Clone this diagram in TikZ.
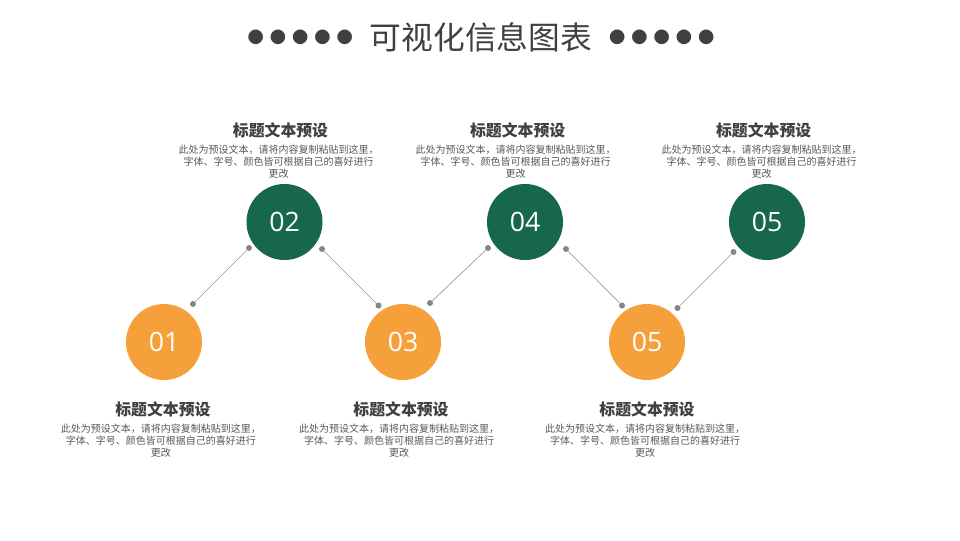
\documentclass[tikz,border=0pt]{standalone}
\usepackage{fontspec}
\setmainfont{Noto Sans CJK SC}
\newfontfamily\numfont{Open Sans}
\usepackage{tikz}
\usetikzlibrary{positioning}
\definecolor{stepgreen}{HTML}{17664E}
\definecolor{steporange}{HTML}{F5A03A}
\definecolor{textgray}{HTML}{404040}
\definecolor{bodygray}{HTML}{595959}
\definecolor{pingray}{HTML}{858585}
\definecolor{linegray}{HTML}{9A9A9A}
\newcommand{\dotrow}{●\kern4.5pt●\kern4.5pt●\kern4.5pt●\kern4.5pt●}

\begin{document}
\begin{tikzpicture}[x=0.75pt, y=-0.75pt,
  numg/.style={circle, fill=stepgreen, minimum size=57pt, inner sep=0pt, text=white, font=\numfont\fontsize{20}{24}\selectfont},
  numo/.style={circle, fill=steporange, minimum size=57pt, inner sep=0pt, text=white, font=\numfont\fontsize{20}{24}\selectfont},
  head/.style={inner sep=0pt, text=textgray, font=\bfseries\fontsize{11.9}{14}\selectfont},
  body/.style={inner sep=0pt, align=center, text=bodygray, font=\fontsize{7.5}{9}\selectfont},
  dots/.style={inner sep=0pt, text=textgray, font=\fontsize{12.2}{14}\selectfont},
  pin/.style={circle, fill=pingray, inner sep=0pt, minimum size=4.5pt},
  link/.style={draw=linegray, line width=0.5pt}]
\useasboundingbox[fill=white] (0,0) rectangle (960,540);
% title row
\node[text=textgray, font=\fontsize{23.8}{28}\selectfont] (ttl) at (481,37) {可视化信息图表};
\node[dots, left=9pt of ttl] (dotsl) {\dotrow};
\node[dots, right=9pt of ttl] (dotsr) {\dotrow};
% steps
\node[numo] (c1) at (164,342) {01};
\node[numg] (c2) at (284.5,222) {02};
\node[numo] (c3) at (403,342) {03};
\node[numg] (c4) at (525,222) {04};
\node[numo] (c5) at (647,342) {05};
\node[numg] (c6) at (767,222) {05};
% texts above
\node[body, above=3.5pt of c2, xshift=-4.5pt] (b2) {此处为预设文本，请将内容复制粘贴到这里，\\字体、字号、颜色皆可根据自己的喜好进行\\更改};
\node[head, above=5pt of b2, xshift=1.5pt] (h2) {标题文本预设};
\node[body, above=3.5pt of c4, xshift=-7pt] (b4) {此处为预设文本，请将内容复制粘贴到这里，\\字体、字号、颜色皆可根据自己的喜好进行\\更改};
\node[head, above=5pt of b4, xshift=1.5pt] (h4) {标题文本预设};
\node[body, above=3.5pt of c6, xshift=-4pt] (b6) {此处为预设文本，请将内容复制粘贴到这里，\\字体、字号、颜色皆可根据自己的喜好进行\\更改};
\node[head, above=5pt of b6, xshift=1.5pt] (h6) {标题文本预设};
% texts below
\node[head, below=15.8pt of c1, xshift=-0.8pt] (h1) {标题文本预设};
\node[body, below=5pt of h1, xshift=-1.5pt] (b1) {此处为预设文本，请将内容复制粘贴到这里，\\字体、字号、颜色皆可根据自己的喜好进行\\更改};
\node[head, below=15.8pt of c3, xshift=-1.5pt] (h3) {标题文本预设};
\node[body, below=5pt of h3, xshift=-1.5pt] (b3) {此处为预设文本，请将内容复制粘贴到这里，\\字体、字号、颜色皆可根据自己的喜好进行\\更改};
\node[head, below=15.8pt of c5] (h5) {标题文本预设};
\node[body, below=5pt of h5, xshift=-1.5pt] (b5) {此处为预设文本，请将内容复制粘贴到这里，\\字体、字号、颜色皆可根据自己的喜好进行\\更改};
% connectors
\node[pin] (p1) at (193,304) {};
\node[pin] (p2) at (249,248) {};
\node[pin] (p3) at (322,249) {};
\node[pin] (p4) at (378.5,305.5) {};
\node[pin] (p5) at (430,303) {};
\node[pin] (p6) at (488,248) {};
\node[pin] (p7) at (566,249) {};
\node[pin] (p8) at (622,305.5) {};
\node[pin] (p9) at (677.5,308) {};
\node[pin] (p10) at (733.5,252) {};
\draw[link] (p1) -- (p2); \draw[link] (p3) -- (p4); \draw[link] (p5) -- (p6);
\draw[link] (p7) -- (p8); \draw[link] (p9) -- (p10);
\end{tikzpicture}
\end{document}
